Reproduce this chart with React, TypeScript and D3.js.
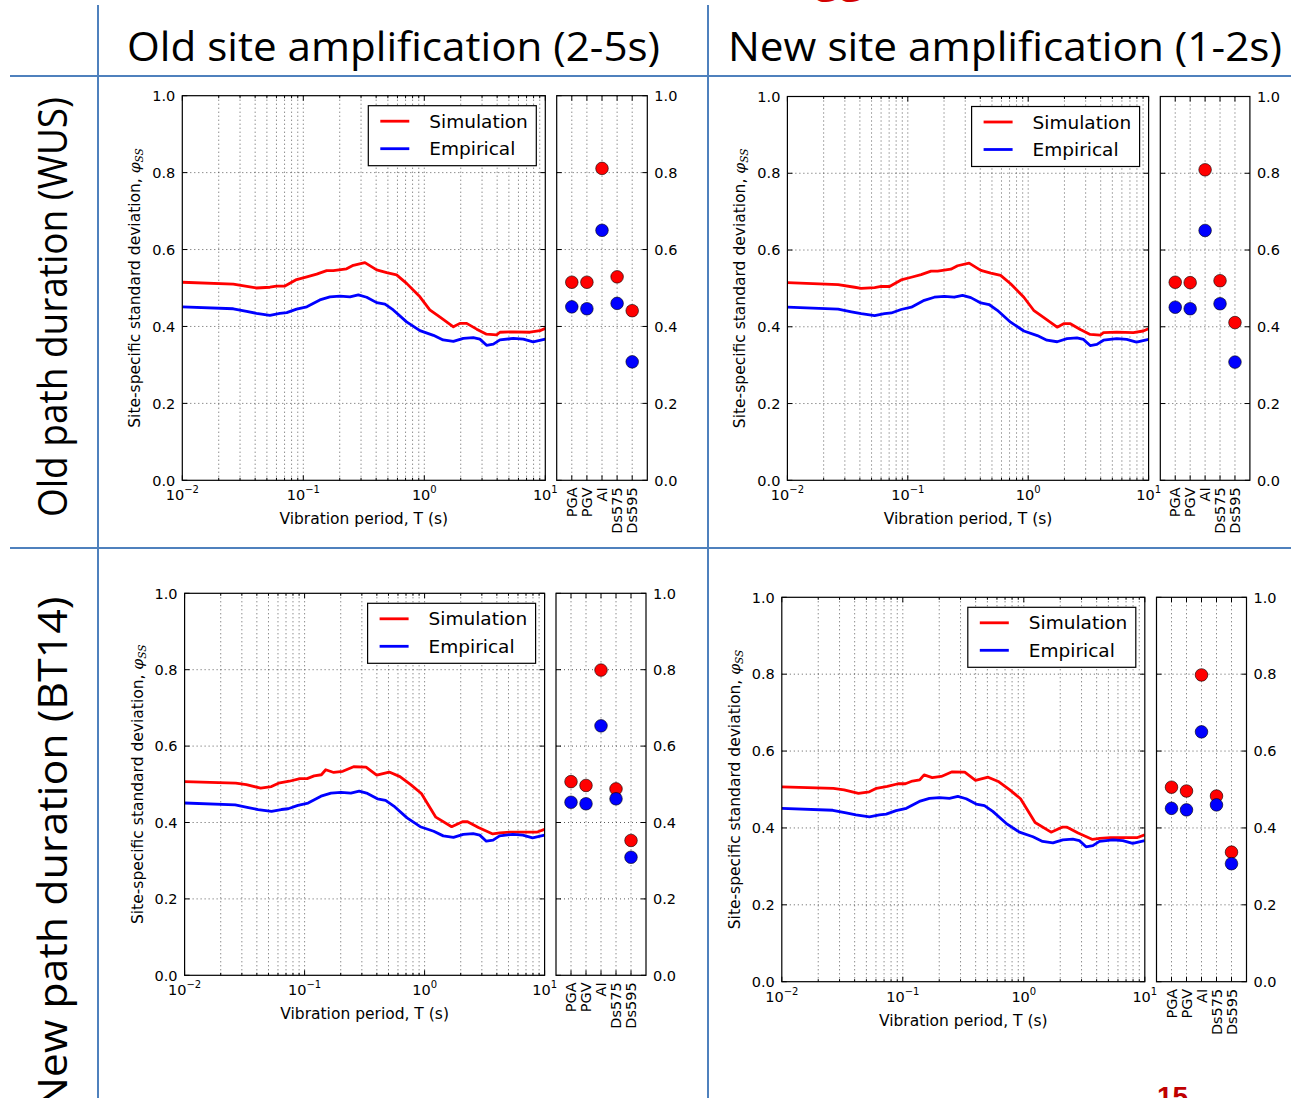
import React from "react";
import * as d3 from "d3";

// ---------- DATA ----------
const categories = ["PGA", "PGV", "AI", "Ds575", "Ds595"];
const yTickValues = [0, 0.2, 0.4, 0.6, 0.8, 1.0];

// Simulation curve, old path duration (top row)
const simOldT = [0.01, 0.0264, 0.0362, 0.041, 0.053, 0.06, 0.0705, 0.088, 0.107, 0.129, 0.156, 0.177, 0.228, 0.259, 0.323, 0.404, 0.489, 0.59, 0.714, 0.92, 1.11, 1.35, 1.74, 1.97, 2.24, 2.71, 3.27, 3.96, 4.22, 5.44, 7.47, 9.03, 10];
const simOldV = [0.515, 0.51, 0.503, 0.5, 0.502, 0.505, 0.505, 0.522, 0.529, 0.536, 0.545, 0.545, 0.55, 0.559, 0.566, 0.547, 0.54, 0.534, 0.512, 0.477, 0.443, 0.424, 0.399, 0.408, 0.408, 0.393, 0.38, 0.378, 0.385, 0.386, 0.385, 0.389, 0.395];

// Simulation curve, new path duration (bottom row)
const simNewT = [0.01, 0.0267, 0.0327, 0.043, 0.0529, 0.0606, 0.0745, 0.0915, 0.105, 0.12, 0.138, 0.15, 0.175, 0.208, 0.256, 0.325, 0.399, 0.507, 0.623, 0.766, 0.94, 1.24, 1.68, 2.07, 2.28, 2.81, 3.7, 4.24, 5.21, 7.35, 8.7, 10];
const simNewV = [0.507, 0.503, 0.499, 0.49, 0.494, 0.503, 0.508, 0.515, 0.515, 0.522, 0.525, 0.538, 0.531, 0.534, 0.546, 0.545, 0.524, 0.532, 0.52, 0.499, 0.476, 0.414, 0.389, 0.402, 0.402, 0.387, 0.37, 0.373, 0.375, 0.375, 0.375, 0.382];

// Empirical curve (all panels)
const empT = [0.01, 0.0264, 0.034, 0.041, 0.053, 0.064, 0.073, 0.088, 0.107, 0.137, 0.166, 0.201, 0.243, 0.285, 0.334, 0.404, 0.473, 0.554, 0.714, 0.92, 1.19, 1.43, 1.74, 2.1, 2.54, 2.88, 3.27, 3.72, 4.22, 5.44, 6.58, 7.94, 10];
const empV = [0.451, 0.446, 0.439, 0.434, 0.429, 0.434, 0.436, 0.445, 0.451, 0.469, 0.477, 0.479, 0.477, 0.482, 0.476, 0.462, 0.458, 0.443, 0.412, 0.389, 0.377, 0.365, 0.361, 0.369, 0.371, 0.367, 0.351, 0.354, 0.365, 0.369, 0.367, 0.36, 0.367];

// Scalar IM values per panel
const scSimTL = [0.515, 0.515, 0.811, 0.529, 0.441];
const scEmpTL = [0.451, 0.446, 0.65, 0.46, 0.308];
const scSimTR = [0.516, 0.515, 0.809, 0.52, 0.411];
const scEmpTR = [0.451, 0.447, 0.651, 0.46, 0.308];
const scSimBL = [0.507, 0.497, 0.799, 0.488, 0.353];
const scEmpBL = [0.453, 0.449, 0.653, 0.462, 0.309];
const scSimBR = [0.506, 0.496, 0.798, 0.483, 0.337];
const scEmpBR = [0.451, 0.447, 0.65, 0.46, 0.307];

const colHeaders = ["Old site amplification (2-5s)", "New site amplification (1-2s)"];
const rowHeaders = ["Old path duration (WUS)", "New path duration (BT14)"];
const legendLabels = ["Simulation", "Empirical"];

// ---------- LAYOUT ----------
const W = 1291;
const H = 1098;
const MPL = "DejaVu Sans, sans-serif";
const HEAD = "Open Sans, sans-serif";
const GRID = { stroke: "#333", strokeWidth: 0.8, strokeDasharray: "1,3" };
const RED = "#ff0000";
const BLUE = "#0000ff";

const panels = [
  { id: "tl", x0: 182.3, x1: 545.3, y0: 95.7, y1: 480.3, sx0: 556.7, sx1: 647.3, simT: simOldT, simV: simOldV, scSim: scSimTL, scEmp: scEmpTL },
  { id: "tr", x0: 787.4, x1: 1148.6, y0: 96.5, y1: 480.3, sx0: 1160.3, sx1: 1249.9, simT: simOldT, simV: simOldV, scSim: scSimTR, scEmp: scEmpTR },
  { id: "bl", x0: 184.6, x1: 544.6, y0: 593.3, y1: 975.3, sx0: 556, sx1: 646, simT: simNewT, simV: simNewV, scSim: scSimBL, scEmp: scEmpBL },
  { id: "br", x0: 781.8, x1: 1144.8, y0: 597.3, y1: 981.7, sx0: 1156.5, sx1: 1246.5, simT: simNewT, simV: simNewV, scSim: scSimBR, scEmp: scEmpBR },
];

function Panel({ p }: { p: any }) {
  const x = d3.scaleLog().domain([0.01, 10]).range([p.x0, p.x1]);
  const y = d3.scaleLinear().domain([0, 1]).range([p.y1, p.y0]);
  const xc = d3.scaleLinear().domain([-1, 5]).range([p.sx0, p.sx1]);
  const xt = x.ticks();
  const isMajor = (t: number) => Math.abs(Math.log10(t) - Math.round(Math.log10(t))) < 1e-6;
  const line = d3
    .line<[number, number]>()
    .x((d) => x(d[0]))
    .y((d) => y(d[1]));
  const simPts: [number, number][] = p.simT.map((t: number, i: number) => [t, p.simV[i]]);
  const empPts: [number, number][] = empT.map((t, i) => [t, empV[i]]);
  const clip = `clip-${p.id}`;
  const MAJ = 5;
  const MIN = 2.5;
  const fmt = d3.format(".1f");
  const lx = p.x1 - 177;
  const ly = p.y0 + 10;

  return (
    <g>
      <defs>
        <clipPath id={clip}>
          <rect x={p.x0} y={p.y0} width={p.x1 - p.x0} height={p.y1 - p.y0} />
        </clipPath>
      </defs>
      {/* main grid */}
      {xt
        .filter((t) => t > 0.0101 && t < 9.99)
        .map((t, i) => (
          <line key={"gx" + i} x1={x(t)} x2={x(t)} y1={p.y0} y2={p.y1} {...GRID} />
        ))}
      {yTickValues
        .filter((v) => v > 0 && v < 1)
        .map((v, i) => (
          <line key={"gy" + i} x1={p.x0} x2={p.x1} y1={y(v)} y2={y(v)} {...GRID} />
        ))}
      {/* main ticks */}
      {xt.map((t, i) => {
        const L = isMajor(t) ? MAJ : MIN;
        return (
          <g key={"tx" + i}>
            <line x1={x(t)} x2={x(t)} y1={p.y1} y2={p.y1 - L} stroke="#000" strokeWidth={1} />
            <line x1={x(t)} x2={x(t)} y1={p.y0} y2={p.y0 + L} stroke="#000" strokeWidth={1} />
          </g>
        );
      })}
      {yTickValues.map((v, i) => (
        <g key={"ty" + i}>
          <line x1={p.x0} x2={p.x0 + MAJ} y1={y(v)} y2={y(v)} stroke="#000" strokeWidth={1} />
          <line x1={p.x1} x2={p.x1 - MAJ} y1={y(v)} y2={y(v)} stroke="#000" strokeWidth={1} />
        </g>
      ))}
      {/* curves */}
      <g clipPath={`url(#${clip})`}>
        <path d={line(simPts) || ""} fill="none" stroke={RED} strokeWidth={2.8} strokeLinejoin="round" />
        <path d={line(empPts) || ""} fill="none" stroke={BLUE} strokeWidth={2.8} strokeLinejoin="round" />
      </g>
      <rect x={p.x0} y={p.y0} width={p.x1 - p.x0} height={p.y1 - p.y0} fill="none" stroke="#000" strokeWidth={1.2} />
      {/* legend */}
      <rect x={lx} y={ly} width={168} height={60} fill="#fff" stroke="#000" strokeWidth={1.2} />
      {legendLabels.map((lab, i) => (
        <g key={"lg" + i}>
          <line x1={lx + 12} x2={lx + 41} y1={ly + 15.5 + i * 27.5} y2={ly + 15.5 + i * 27.5} stroke={i === 0 ? RED : BLUE} strokeWidth={2.8} />
          <text x={lx + 61} y={ly + 15.5 + i * 27.5} dy="0.36em" fontFamily={MPL} fontSize={18.5} fill="#000">
            {lab}
          </text>
        </g>
      ))}
      {/* x tick labels */}
      {xt.filter(isMajor).map((t, i) => (
        <text key={"xl" + i} x={x(t)} y={p.y1 + 20} textAnchor="middle" fontFamily={MPL} fontSize={14.5} fill="#000">
          <tspan>10</tspan>
          <tspan dy={-7} fontSize={10}>
            {String(Math.round(Math.log10(t))).replace("-", "\u2212")}
          </tspan>
        </text>
      ))}
      {/* y tick labels (left) */}
      {yTickValues.map((v, i) => (
        <text key={"yl" + i} x={p.x0 - 7} y={y(v)} dy="0.36em" textAnchor="end" fontFamily={MPL} fontSize={14.5} fill="#000">
          {fmt(v)}
        </text>
      ))}
      {/* axis labels */}
      <text x={(p.x0 + p.x1) / 2} y={p.y1 + 44} textAnchor="middle" fontFamily={MPL} fontSize={15.5} fill="#000">
        Vibration period, T (s)
      </text>
      <text transform={`translate(${p.x0 - 42},${(p.y0 + p.y1) / 2}) rotate(-90)`} textAnchor="middle" fontFamily={MPL} fontSize={15.5} fill="#000">
        <tspan>Site-specific standard deviation, </tspan>
        <tspan fontFamily="DejaVu Serif, serif" fontStyle="italic">
          φ
        </tspan>
        <tspan fontFamily="DejaVu Serif, serif" fontStyle="italic" fontSize={10.5} dy={3}>
          SS
        </tspan>
      </text>

      {/* scatter panel */}
      {categories.map((c, i) => (
        <line key={"sgx" + i} x1={xc(i)} x2={xc(i)} y1={p.y0} y2={p.y1} {...GRID} />
      ))}
      {yTickValues
        .filter((v) => v > 0 && v < 1)
        .map((v, i) => (
          <line key={"sgy" + i} x1={p.sx0} x2={p.sx1} y1={y(v)} y2={y(v)} {...GRID} />
        ))}
      {categories.map((c, i) => (
        <g key={"stx" + i}>
          <line x1={xc(i)} x2={xc(i)} y1={p.y1} y2={p.y1 - MAJ} stroke="#000" strokeWidth={1} />
          <line x1={xc(i)} x2={xc(i)} y1={p.y0} y2={p.y0 + MAJ} stroke="#000" strokeWidth={1} />
        </g>
      ))}
      {yTickValues.map((v, i) => (
        <g key={"sty" + i}>
          <line x1={p.sx0} x2={p.sx0 + MAJ} y1={y(v)} y2={y(v)} stroke="#000" strokeWidth={1} />
          <line x1={p.sx1} x2={p.sx1 - MAJ} y1={y(v)} y2={y(v)} stroke="#000" strokeWidth={1} />
        </g>
      ))}
      {p.scSim.map((v: number, i: number) => (
        <circle key={"ss" + i} cx={xc(i)} cy={y(v)} r={6.3} fill={RED} stroke="#000" strokeWidth={0.6} />
      ))}
      {p.scEmp.map((v: number, i: number) => (
        <circle key={"se" + i} cx={xc(i)} cy={y(v)} r={6.3} fill={BLUE} stroke="#000" strokeWidth={0.6} />
      ))}
      <rect x={p.sx0} y={p.y0} width={p.sx1 - p.sx0} height={p.y1 - p.y0} fill="none" stroke="#000" strokeWidth={1.2} />
      {yTickValues.map((v, i) => (
        <text key={"syl" + i} x={p.sx1 + 7} y={y(v)} dy="0.36em" textAnchor="start" fontFamily={MPL} fontSize={14.5} fill="#000">
          {fmt(v)}
        </text>
      ))}
      {categories.map((c, i) => (
        <text key={"scl" + i} transform={`translate(${xc(i)},${p.y1 + 7}) rotate(-90)`} dy="0.36em" textAnchor="end" fontFamily={MPL} fontSize={14.5} fill="#000">
          {c}
        </text>
      ))}
    </g>
  );
}

export default function App() {
  const tableColor = "#4f81bd";
  return (
    <svg width={W} height={H} viewBox={`0 0 ${W} ${H}`} style={{ position: "absolute", left: 0, top: 0, display: "block", background: "#fff" }}>
      <rect x={0} y={0} width={W} height={H} fill="#fff" />
      {/* table lines */}
      <line x1={98} x2={98} y1={5} y2={H} stroke={tableColor} strokeWidth={2} />
      <line x1={708} x2={708} y1={5} y2={H} stroke={tableColor} strokeWidth={2} />
      <line x1={10} x2={W} y1={76} y2={76} stroke={tableColor} strokeWidth={2} />
      <line x1={10} x2={W} y1={548} y2={548} stroke={tableColor} strokeWidth={2} />

      {/* column headers */}
      <text x={393.5} y={61} textAnchor="middle" fontFamily={HEAD} fontSize={40} fill="#000" textLength={533} lengthAdjust="spacingAndGlyphs">
        {colHeaders[0]}
      </text>
      <text x={1005} y={61} textAnchor="middle" fontFamily={HEAD} fontSize={40} fill="#000" textLength={554} lengthAdjust="spacingAndGlyphs">
        {colHeaders[1]}
      </text>
      {/* row headers */}
      <text transform="translate(67,307) rotate(-90)" textAnchor="middle" fontFamily={HEAD} fontSize={40} fill="#000" textLength={420} lengthAdjust="spacingAndGlyphs">
        {rowHeaders[0]}
      </text>
      <text transform="translate(67,853) rotate(-90)" textAnchor="middle" fontFamily={HEAD} fontSize={40} fill="#000" textLength={513} lengthAdjust="spacingAndGlyphs">
        {rowHeaders[1]}
      </text>

      {panels.map((p) => (
        <Panel key={p.id} p={p} />
      ))}

      {/* slide decorations */}
      <text x={815} y={-9} fontFamily={HEAD} fontWeight="bold" fontSize={44} fill="#d40000">
        gg
      </text>
      <text x={1157} y={1106} fontFamily="Liberation Sans, Arial, sans-serif" fontWeight="bold" fontSize={28} fill="#c00000">
        15
      </text>
    </svg>
  );
}
